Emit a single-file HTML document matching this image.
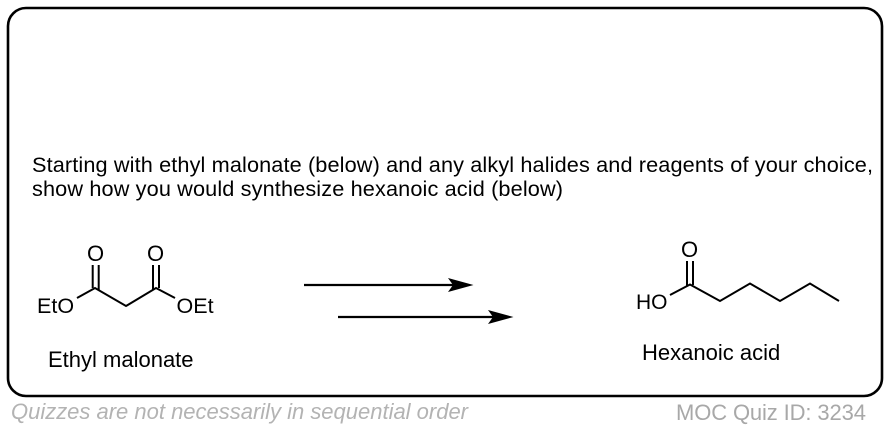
<!DOCTYPE html>
<html>
<head>
<meta charset="utf-8">
<style>
html,body{margin:0;padding:0;background:#fff;width:890px;height:428px;overflow:hidden}
svg{display:block;font-family:"Liberation Sans",Arial,sans-serif}
</style>
</head>
<body>
<svg width="890" height="428" viewBox="0 0 890 428" xmlns="http://www.w3.org/2000/svg">
<rect x="8" y="8" width="874" height="388" rx="18" ry="18" fill="#fff" stroke="#000" stroke-width="2.6"/>
<text x="32" y="172" font-size="21.7" textLength="841" lengthAdjust="spacing" fill="#000">Starting with ethyl malonate (below) and any alkyl halides and reagents of your choice,</text>
<text x="32" y="196" font-size="21.7" textLength="531" lengthAdjust="spacing" fill="#000">show how you would synthesize hexanoic acid (below)</text>

<g fill="none" stroke="#000" stroke-width="2" stroke-linecap="butt" stroke-linejoin="miter">
<polyline points="77,298 95,288 126,306 156,288 175,298"/>
<line x1="92.7" y1="265" x2="92.7" y2="288"/>
<line x1="98.7" y1="265" x2="98.7" y2="290"/>
<line x1="153" y1="265" x2="153" y2="290"/>
<line x1="159" y1="265" x2="159" y2="288"/>
<polyline points="670,295 690,284.5 720,301 750,283.5 780,301 810,283.5 839,301"/>
<line x1="687" y1="261" x2="687" y2="286"/>
<line x1="693" y1="261" x2="693" y2="285"/>
</g>
<g font-size="22" fill="#000">
<text x="95.5" y="261" text-anchor="middle">O</text>
<text x="155.5" y="261" text-anchor="middle">O</text>
<text x="37" y="313" font-size="21.5">EtO</text>
<text x="176.5" y="313" font-size="21.5">OEt</text>
<text x="689.5" y="257" text-anchor="middle">O</text>
<text x="636" y="309" font-size="21">HO</text>
<text x="48" y="367">Ethyl malonate</text>
<text x="642" y="360">Hexanoic acid</text>
</g>

<line x1="304" y1="285" x2="455" y2="285" stroke="#000" stroke-width="2.2"/>
<polygon points="473.5,285 448,278 453,285 448,292" fill="#000"/>
<line x1="338" y1="317" x2="494" y2="317" stroke="#000" stroke-width="2.2"/>
<polygon points="513.5,317 488,310 493,317 488,324" fill="#000"/>

<text x="11" y="419" font-size="22" font-style="italic" fill="#b3b3b3" textLength="457" lengthAdjust="spacing">Quizzes are not necessarily in sequential order</text>
<text x="676" y="420" font-size="22" fill="#a8a8a8" textLength="190" lengthAdjust="spacing">MOC Quiz ID: 3234</text>
</svg>
</body>
</html>
